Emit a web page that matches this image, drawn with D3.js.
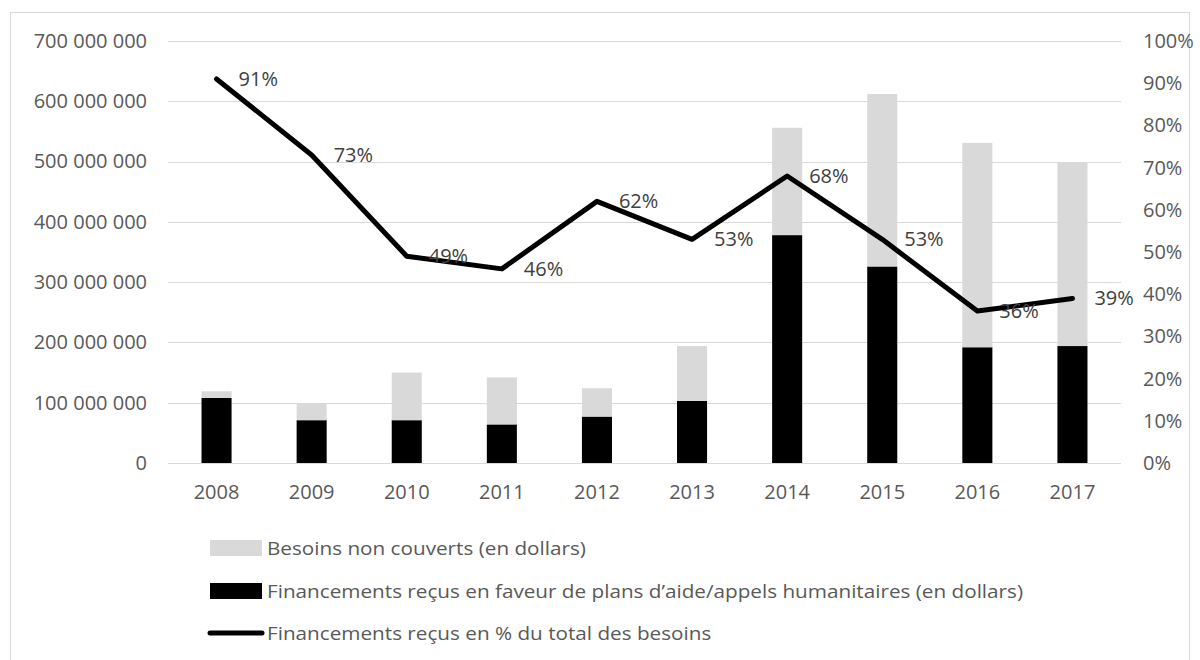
<!DOCTYPE html>
<html lang="fr">
<head>
<meta charset="utf-8">
<script src="https://cdn.jsdelivr.net/npm/d3@7"></script>
<style>
  html, body { margin: 0; padding: 0; background: #fff; }
  svg { display: block; }
  text { font-family: "Open Sans", "Noto Sans", sans-serif; }
</style>
</head>
<body>
<svg id="chart" width="1200" height="660"></svg>
<script>
// Années couvertes
const years = ["2008", "2009", "2010", "2011", "2012", "2013", "2014", "2015", "2016", "2017"];
// Financements reçus (dollars)
const funded = [108e6, 71e6, 71e6, 64e6, 77e6, 103e6, 378e6, 326e6, 192e6, 194e6];
// Besoins non couverts (dollars)
const unmet = [11e6, 28e6, 79e6, 78e6, 47e6, 91e6, 178e6, 286e6, 339e6, 305e6];
// Financements reçus en % du total des besoins
const pct = [91, 73, 49, 46, 62, 53, 68, 53, 36, 39];
// Graduations des axes
const leftTicks = [0, 100e6, 200e6, 300e6, 400e6, 500e6, 600e6, 700e6];
const rightTicks = [0, 10, 20, 30, 40, 50, 60, 70, 80, 90, 100];
// Libellés de la légende
const legendLabels = [
  "Besoins non couverts (en dollars)",
  "Financements reçus en faveur de plans d\u2019aide/appels humanitaires (en dollars)",
  "Financements reçus en % du total des besoins"
];

const svg = d3.select("#chart");
const TEXT = "#595959";
const GRID = "#d9d9d9";
const GREY = "#d9d9d9";

// Cadre de la zone graphique
svg.append("rect")
  .attr("x", 10.5).attr("y", 12.5)
  .attr("width", 1179).attr("height", 660)
  .attr("fill", "none").attr("stroke", GRID).attr("stroke-width", 1);

const plot = { left: 169, right: 1120, top: 41, bottom: 463 };

const x = d3.scaleBand().domain(years).range([plot.left, plot.right]).paddingInner(0.684).paddingOuter(0.342);
const yL = d3.scaleLinear().domain([0, 700e6]).range([plot.bottom, plot.top]);
const yR = d3.scaleLinear().domain([0, 100]).range([plot.bottom, plot.top]);

const fmtNum = n => d3.format(",")(n).replace(/,/g, " ");

// Quadrillage horizontal
svg.append("g")
  .selectAll("line").data(leftTicks).join("line")
  .attr("x1", plot.left - 1).attr("x2", plot.right + 1)
  .attr("y1", d => Math.round(yL(d)) + 0.5).attr("y2", d => Math.round(yL(d)) + 0.5)
  .attr("stroke", GRID).attr("stroke-width", 1.2);

// Axe gauche (montants)
const axL = svg.append("g").attr("transform", `translate(${plot.left},0)`)
  .call(d3.axisLeft(yL).tickValues(leftTicks).tickFormat(fmtNum).tickSize(0).tickPadding(22));
axL.select(".domain").remove();
axL.selectAll("text").attr("fill", TEXT).style("font-size", "20px")
  .style("font-family", '"Open Sans", sans-serif');

// Axe droit (pourcentages)
const axR = svg.append("g").attr("transform", `translate(${plot.right},0)`)
  .call(d3.axisRight(yR).tickValues(rightTicks).tickFormat(d => d + "%").tickSize(0).tickPadding(23));
axR.select(".domain").remove();
axR.selectAll("text").attr("fill", TEXT).style("font-size", "20px")
  .style("font-family", '"Open Sans", sans-serif');

// Axe des années
const axB = svg.append("g").attr("transform", `translate(0,${plot.bottom})`)
  .call(d3.axisBottom(x).tickSize(0).tickPadding(22));
axB.select(".domain").remove();
axB.selectAll("text").attr("fill", TEXT).style("font-size", "20px")
  .style("font-family", '"Open Sans", sans-serif');

// Barres empilées : financements reçus puis besoins non couverts
const rows = years.map((yr, i) => ({ year: yr, funded: funded[i], unmet: unmet[i] }));
const stack = d3.stack().keys(["funded", "unmet"])(rows);
const colors = { funded: "#000000", unmet: GREY };

svg.append("g").selectAll("g").data(stack).join("g")
  .attr("fill", s => colors[s.key])
  .selectAll("rect").data(s => s).join("rect")
  .attr("x", d => x(d.data.year))
  .attr("width", x.bandwidth())
  .attr("y", d => yL(d[1]))
  .attr("height", d => yL(d[0]) - yL(d[1]));

// Courbe du taux de financement
const pts = years.map((yr, i) => ({ year: yr, v: pct[i] }));
const line = d3.line().x(d => x(d.year) + x.bandwidth() / 2).y(d => yR(d.v));
svg.append("path").datum(pts)
  .attr("d", line)
  .attr("fill", "none").attr("stroke", "#000").attr("stroke-width", 5)
  .attr("stroke-linejoin", "round").attr("stroke-linecap", "round");

// Étiquettes de valeurs
svg.append("g").selectAll("text").data(pts).join("text")
  .attr("x", d => x(d.year) + x.bandwidth() / 2 + 22)
  .attr("y", d => yR(d.v))
  .attr("dy", "0.35em")
  .attr("fill", "#404040")
  .style("font-size", "20px")
  .text(d => d.v + "%");

// Légende (texte resserré horizontalement, même facteur pour les trois lignes)
const legend = svg.append("g");
const lgY = [548, 591, 633];

legend.append("rect").attr("x", 210).attr("y", lgY[0] - 8).attr("width", 52).attr("height", 16).attr("fill", GREY);
legend.append("rect").attr("x", 210).attr("y", lgY[1] - 8).attr("width", 52).attr("height", 16).attr("fill", "#000");
legend.append("line").attr("x1", 210).attr("x2", 262).attr("y1", lgY[2]).attr("y2", lgY[2])
  .attr("stroke", "#000").attr("stroke-width", 5).attr("stroke-linecap", "round");

const lgText = legend.selectAll("text").data(legendLabels).join("text")
  .attr("x", 267)
  .attr("y", (d, i) => lgY[i])
  .attr("dy", "0.35em")
  .attr("fill", TEXT)
  .style("font-size", "19px")
  .text(d => d);

const natural = lgText.nodes().map(n => n.getComputedTextLength());
const squeeze = 756 / natural[1];
lgText
  .attr("textLength", (d, i) => natural[i] * squeeze)
  .attr("lengthAdjust", "spacingAndGlyphs");
</script>
</body>
</html>
